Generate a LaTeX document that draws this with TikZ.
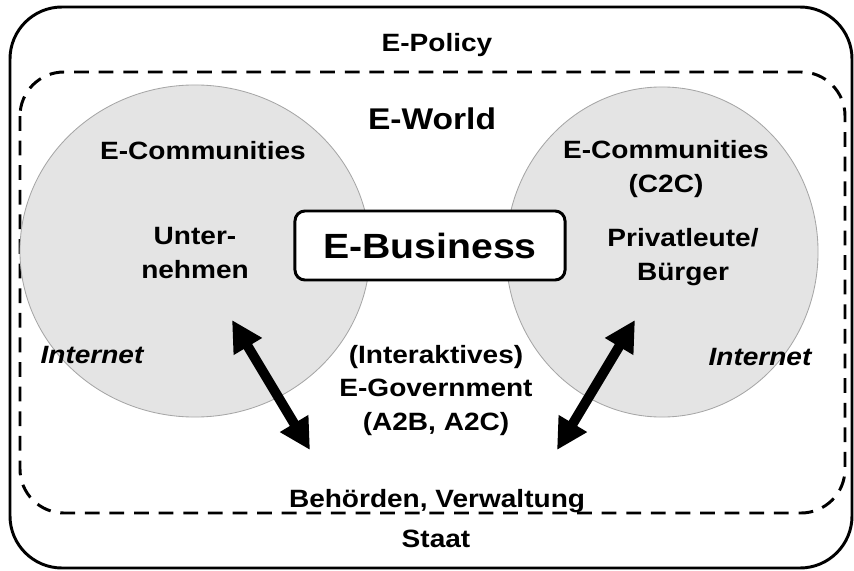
\documentclass[tikz,border=0pt]{standalone}
\usepackage{fontspec}
\setmainfont{Liberation Sans}[FakeStretch=1.12]
\usetikzlibrary{shapes.geometric,arrows.meta}

\definecolor{sphere}{RGB}{228,228,228}

\begin{document}
\begin{tikzpicture}[x=0.025cm, y=-0.025cm,
        lbl/.style={font=\bfseries\fontsize{17.8}{23.5}\selectfont, align=center, anchor=base, inner sep=0pt},
        world/.style={ellipse, draw=gray!70, line width=0.6pt, fill=sphere, inner sep=0pt},
        link/.style={line width=7pt, {Triangle[length=22pt,width=22pt]}-{Triangle[length=22pt,width=22pt]}}]
        \useasboundingbox (0,0) rectangle (854,571);

        % frames
        \draw[line width=2.1pt, rounded corners=1.3cm] (10,7) rectangle (852,568);
        \draw[line width=2.1pt, dash pattern=on 10.5pt off 7pt, rounded corners=1.1cm] (20,72) rectangle (845,513);

        % communities
        \node(left) at (195,251) [world, minimum width=8.75cm, minimum height=8.3cm] {};
        \node(right) at (662,252) [world, minimum width=7.8cm, minimum height=8.25cm] {};

        \node(policy) at (437,52) [lbl] {E-Policy};
        \node(eworld) at (432,130) [lbl, font=\bfseries\fontsize{21.3}{26}\selectfont] {E-World};

        % multi-line labels sit on their last line
        \node(lcomm) at (203,160) [lbl] {E-Communities};
        \node(firms) at (195,278) [lbl] {Unter-\\nehmen};
        \node(rcomm) at (666,192) [lbl] {E-Communities\\(C2C)};
        \node(citizens) at (683,280) [lbl] {Privatleute/\\Bürger};

        \node(ebiz) at (430,245.5) [rectangle, draw, rounded corners=0.25cm, line width=2.1pt, fill=white,
            minimum width=6.75cm, minimum height=1.725cm, font=\bfseries\fontsize{24.9}{28}\selectfont] {E-Business};

        \node(inetl) at (92,363) [lbl, font=\bfseries\itshape\fontsize{17.8}{23.5}\selectfont] {Internet};
        \node(inetr) at (760,365) [lbl, font=\bfseries\itshape\fontsize{17.8}{23.5}\selectfont] {Internet};

        \node(egov) at (436,430) [lbl] {(Interaktives)\\E-Government\\(A2B, A2C)};
        \node(admin) at (437,507) [lbl] {Behörden, Verwaltung};
        \node(state) at (436,547) [lbl] {Staat};

        % interactions
        \coordinate(la1) at (232,320);
        \coordinate(la2) at (310,450);
        \coordinate(ra1) at (635,320);
        \coordinate(ra2) at (557,450);
        \draw [link] (la1) -- (la2);
        \draw [link] (ra1) -- (ra2);
    \end{tikzpicture}
\end{document}
